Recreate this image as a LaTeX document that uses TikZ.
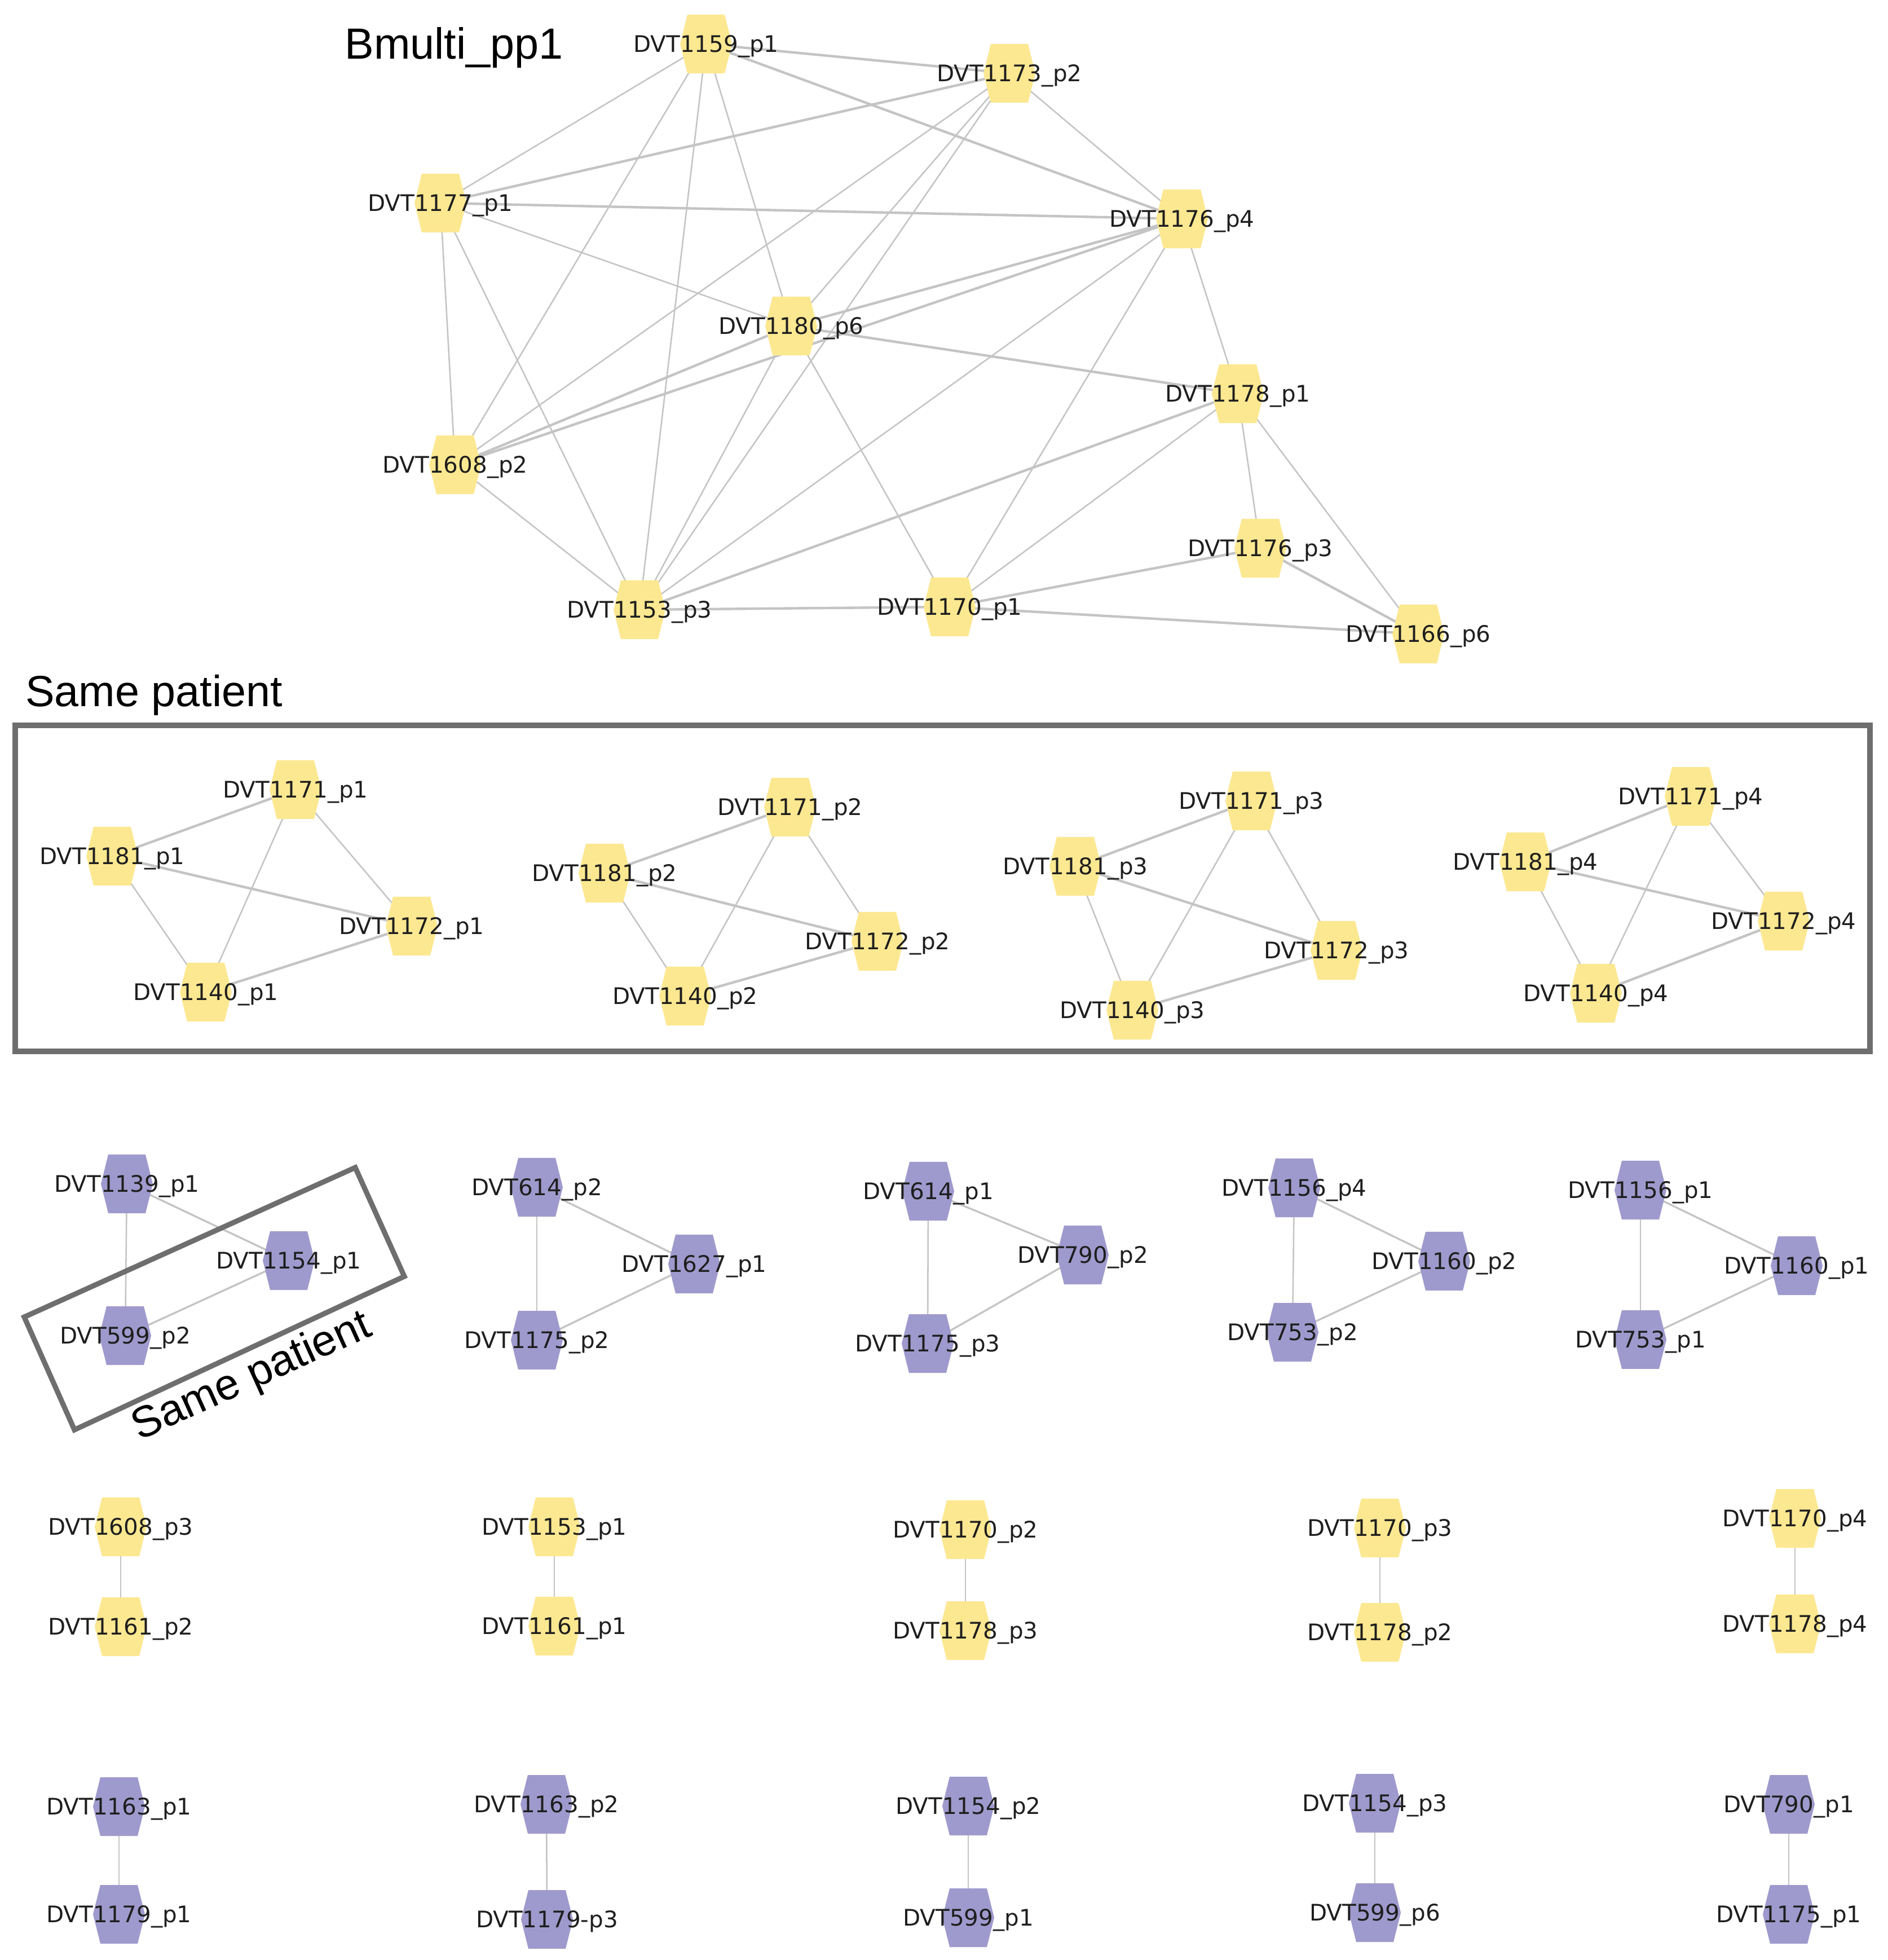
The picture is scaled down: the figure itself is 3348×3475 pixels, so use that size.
\documentclass[tikz,border=0pt]{standalone}
\usepackage{fontspec}
\setmainfont{DejaVu Sans}
\newfontfamily\ttlfont{Liberation Sans}
\usetikzlibrary{calc}
\definecolor{hy}{HTML}{FCE891}
\definecolor{hp}{HTML}{9F9ACD}
\definecolor{edc}{HTML}{C4C4C4}
\definecolor{bxc}{HTML}{6E6E6E}
\definecolor{txc}{HTML}{1E1E1E}
\pgfdeclarelayer{bg}
\pgfdeclarelayer{edges}
\pgfsetlayers{bg,edges,main}
\tikzset{
  hexn/.style={inner sep=0pt, outer sep=0pt, text height=8.4pt, text depth=0pt,
    minimum height=1.06cm, minimum width=0.94cm, text=txc,
    font=\fontsize{11.5pt}{13pt}\selectfont,
    path picture={\fill[#1]
      ($(path picture bounding box.center)+(-0.46cm,0cm)$) --
      ($(path picture bounding box.center)+(-0.33cm,0.52cm)$) --
      ($(path picture bounding box.center)+(0.33cm,0.52cm)$) --
      ($(path picture bounding box.center)+(0.46cm,0cm)$) --
      ($(path picture bounding box.center)+(0.33cm,-0.52cm)$) --
      ($(path picture bounding box.center)+(-0.33cm,-0.52cm)$) -- cycle;}},
  yh/.style={hexn=hy},
  ph/.style={hexn=hp},
  ed/.style={draw=edc, line width=0.72pt},
  edk/.style={draw=edc, line width=1.25pt},
  boxs/.style={draw=bxc, line width=2.6pt, line join=miter},
  ttl/.style={font=\ttlfont\fontsize{22pt}{26pt}\selectfont, text=black, inner sep=0pt}
}
\newcommand\E[2]{\draw[ed] (#1.center) -- (#2.center);}
\newcommand\K[2]{\draw[edk] (#1.center) -- (#2.center);}
\begin{document}
\begin{tikzpicture}[x=0.01cm, y=-0.01cm]
\useasboundingbox (0,0) rectangle (3348,3475);
\begin{pgfonlayer}{bg}
\fill[white] (0,0) rectangle (3348,3475);
\end{pgfonlayer}

% titles
\node[ttl, anchor=base] (title) at (805,104) {Bmulti\_pp1};
\node[ttl, anchor=base] (sp) at (273,1252) {Same patient};

% ---------- top network ----------
\node[yh] (a1159) at (1252,78) {DVT1159\_p1};
\node[yh] (a1173) at (1790,130) {DVT1173\_p2};
\node[yh] (a1177) at (781,360) {DVT1177\_p1};
\node[yh] (a1176d) at (2096,388) {DVT1176\_p4};
\node[yh] (a1180) at (1403,578) {DVT1180\_p6};
\node[yh] (a1178) at (2195,698) {DVT1178\_p1};
\node[yh] (a1608) at (807,824) {DVT1608\_p2};
\node[yh] (a1176c) at (2235,972) {DVT1176\_p3};
\node[yh] (a1153) at (1134,1081) {DVT1153\_p3};
\node[yh] (a1170) at (1684,1076) {DVT1170\_p1};
\node[yh] (a1166) at (2515,1124) {DVT1166\_p6};

\begin{pgfonlayer}{edges}
\K{a1159}{a1173} \E{a1159}{a1177} \E{a1159}{a1608} \E{a1159}{a1153} \E{a1159}{a1180} \K{a1159}{a1176d}
\K{a1173}{a1177} \E{a1173}{a1176d} \E{a1173}{a1608} \E{a1173}{a1180} \E{a1173}{a1153}
\K{a1177}{a1176d} \E{a1177}{a1180} \E{a1177}{a1608} \E{a1177}{a1153}
\K{a1176d}{a1180} \K{a1176d}{a1608} \E{a1176d}{a1153} \E{a1176d}{a1170} \E{a1176d}{a1178}
\K{a1180}{a1608} \E{a1180}{a1153} \E{a1180}{a1170} \K{a1180}{a1178}
\E{a1608}{a1153}
\K{a1178}{a1153} \E{a1178}{a1170} \E{a1178}{a1176c} \E{a1178}{a1166}
\K{a1153}{a1170}
\K{a1170}{a1176c} \K{a1170}{a1166}
\K{a1176c}{a1166}
\end{pgfonlayer}

% ---------- same patient box ----------
\draw[boxs] (27,1286) rectangle (3316,1864);

\node[yh] (b71) at (524,1400) {DVT1171\_p1};
\node[yh] (b81) at (199,1518) {DVT1181\_p1};
\node[yh] (b72) at (730,1642) {DVT1172\_p1};
\node[yh] (b40) at (365,1759) {DVT1140\_p1};

\node[yh] (c71) at (1401,1431) {DVT1171\_p2};
\node[yh] (c81) at (1072,1548) {DVT1181\_p2};
\node[yh] (c72) at (1556,1669) {DVT1172\_p2};
\node[yh] (c40) at (1215,1766) {DVT1140\_p2};

\node[yh] (d71) at (2219,1420) {DVT1171\_p3};
\node[yh] (d81) at (1907,1536) {DVT1181\_p3};
\node[yh] (d72) at (2370,1685) {DVT1172\_p3};
\node[yh] (d40) at (2008,1791) {DVT1140\_p3};

\node[yh] (e71) at (2998,1412) {DVT1171\_p4};
\node[yh] (e81) at (2705,1528) {DVT1181\_p4};
\node[yh] (e72) at (3163,1633) {DVT1172\_p4};
\node[yh] (e40) at (2830,1761) {DVT1140\_p4};

\begin{pgfonlayer}{edges}
\foreach \g in {b,c,d,e}{
  \K{\g81}{\g71} \K{\g81}{\g72} \E{\g81}{\g40}
  \E{\g71}{\g40} \E{\g71}{\g72} \K{\g40}{\g72}
}
\end{pgfonlayer}

% ---------- purple triangles ----------
\node[ph] (f1) at (225,2099) {DVT1139\_p1};
\node[ph] (f2) at (512,2235) {DVT1154\_p1};
\node[ph] (f3) at (222,2368) {DVT599\_p2};

\node[ph] (g1) at (952,2105) {DVT614\_p2};
\node[ph] (g2) at (1231,2241) {DVT1627\_p1};
\node[ph] (g3) at (952,2376) {DVT1175\_p2};

\node[ph] (h1) at (1646,2112) {DVT614\_p1};
\node[ph] (h2) at (1920,2225) {DVT790\_p2};
\node[ph] (h3) at (1645,2382) {DVT1175\_p3};

\node[ph] (i1) at (2295,2106) {DVT1156\_p4};
\node[ph] (i2) at (2561,2236) {DVT1160\_p2};
\node[ph] (i3) at (2292,2362) {DVT753\_p2};

\node[ph] (j1) at (2909,2110) {DVT1156\_p1};
\node[ph] (j2) at (3186,2244) {DVT1160\_p1};
\node[ph] (j3) at (2909,2375) {DVT753\_p1};

\begin{pgfonlayer}{edges}
\foreach \g in {f,g,h,i,j}{
  \E{\g1}{\g3} \draw[ed, line width=0.95pt] (\g1.center) -- (\g2.center);
  \draw[ed, line width=0.95pt] (\g3.center) -- (\g2.center);
}
\end{pgfonlayer}

% rotated same-patient box
\coordinate (r1) at (43,2335);
\coordinate (r2) at (630,2070);
\coordinate (r3) at (717,2263);
\coordinate (r4) at (132,2535);
\draw[boxs] (r1) -- (r2) -- (r3) -- (r4) -- cycle;
\node[ttl, rotate=24.3] (sp2) at (447,2442) {Same patient};

% ---------- yellow pairs ----------
\node[yh] (k1) at (214,2707) {DVT1608\_p3};
\node[yh] (k2) at (214,2884) {DVT1161\_p2};
\node[yh] (l1) at (983,2707) {DVT1153\_p1};
\node[yh] (l2) at (983,2883) {DVT1161\_p1};
\node[yh] (m1) at (1712,2712) {DVT1170\_p2};
\node[yh] (m2) at (1712,2891) {DVT1178\_p3};
\node[yh] (n1) at (2447,2709) {DVT1170\_p3};
\node[yh] (n2) at (2447,2894) {DVT1178\_p2};
\node[yh] (o1) at (3183,2692) {DVT1170\_p4};
\node[yh] (o2) at (3183,2879) {DVT1178\_p4};

% ---------- purple pairs ----------
\node[ph] (p1) at (211,3203) {DVT1163\_p1};
\node[ph] (p2) at (211,3394) {DVT1179\_p1};
\node[ph] (q1) at (969,3199) {DVT1163\_p2};
\node[ph] (q2) at (970,3403) {DVT1179-p3};
\node[ph] (r1n) at (1717,3202) {DVT1154\_p2};
\node[ph] (r2n) at (1717,3400) {DVT599\_p1};
\node[ph] (s1) at (2438,3197) {DVT1154\_p3};
\node[ph] (s2) at (2438,3391) {DVT599\_p6};
\node[ph] (t1) at (3172,3199) {DVT790\_p1};
\node[ph] (t2) at (3172,3394) {DVT1175\_p1};

\begin{pgfonlayer}{edges}
\E{k1}{k2} \E{l1}{l2} \E{m1}{m2} \E{n1}{n2} \E{o1}{o2}
\E{p1}{p2} \E{q1}{q2} \E{r1n}{r2n} \E{s1}{s2} \E{t1}{t2}
\end{pgfonlayer}
\end{tikzpicture}
\end{document}
